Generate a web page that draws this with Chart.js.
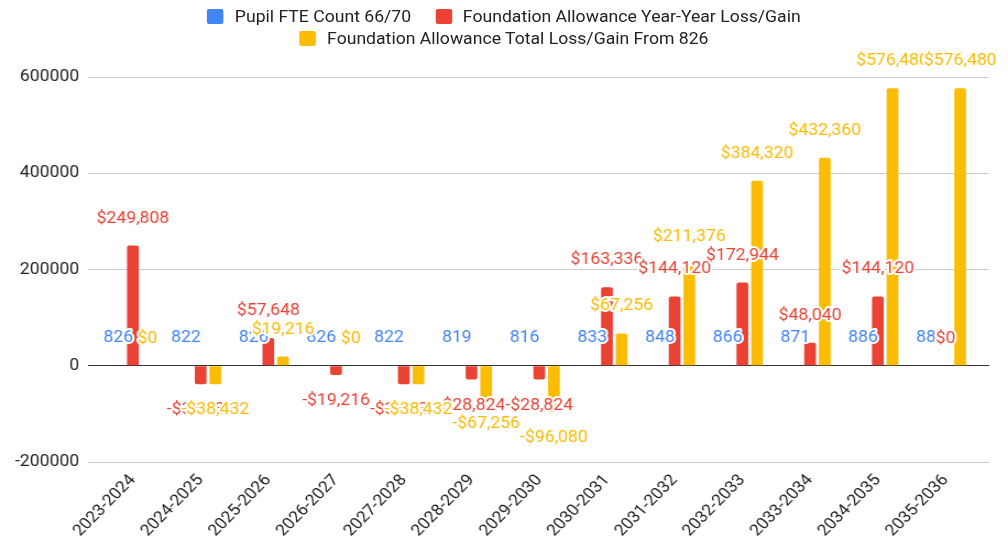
<!DOCTYPE html>
<html><head><meta charset="utf-8">
<script src="https://cdn.jsdelivr.net/npm/chart.js@4/dist/chart.umd.min.js"></script>
<style>
html,body{margin:0;padding:0;background:#fff;overflow:hidden;width:1008px;height:543px}
#wrap{position:absolute;left:0;top:0;width:916px;height:543px;transform-origin:0 0;transform:scaleX(1.10044)}
canvas{position:absolute;left:0;top:0}
#legend{position:absolute;left:0;top:5px;width:916px;font:16px Roboto, sans-serif;color:#222}
.row{display:flex;justify-content:center;align-items:center;height:22px;white-space:nowrap}
.item{display:flex;align-items:center;margin:0 11px}
.box{width:15px;height:15px;border-radius:2px;margin-right:10px;flex:none}
</style></head><body>
<div id="wrap">
<canvas id="c" width="916" height="543" style="width:916px;height:543px"></canvas>
<div id="legend"></div>
</div>
<script>
const categories = ['2023-2024','2024-2025','2025-2026','2026-2027','2027-2028','2028-2029','2029-2030','2030-2031','2031-2032','2032-2033','2033-2034','2034-2035','2035-2036'];
const pupilFTE = [826, 822, 826, 826, 822, 819, 816, 833, 848, 866, 871, 886, 886];
const yearLoss = [249808, -38432, 57648, -19216, -38432, -28824, -28824, 163336, 144120, 172944, 48040, 144120, 0];
const totalLoss = [0, -38432, 19216, 0, -38432, -67256, -96080, 67256, 211376, 384320, 432360, 576480, 576480];
const yTicks = [-200000, 0, 200000, 400000, 600000];
const seriesNames = ['Pupil FTE Count 66/70', 'Foundation Allowance Year-Year Loss/Gain', 'Foundation Allowance Total Loss/Gain From 826'];
const seriesColors = ['#4285F4', '#EA4335', '#FBBC04'];

const plainFmt = v => String(v);
const moneyFmt = v => (v < 0 ? '-$' : '$') + Math.abs(v).toLocaleString('en-US');

// HTML legend (two centered rows like the reference)
const legend = document.getElementById('legend');
[[0, 1], [2]].forEach(r => {
  const row = document.createElement('div');
  row.className = 'row';
  r.forEach(i => {
    const it = document.createElement('div');
    it.className = 'item';
    const b = document.createElement('span');
    b.className = 'box';
    b.style.background = seriesColors[i];
    const t = document.createElement('span');
    t.textContent = seriesNames[i];
    it.appendChild(b); it.appendChild(t);
    row.appendChild(it);
  });
  legend.appendChild(row);
});

const labelPlugin = {
  id: 'barLabels',
  afterDatasetsDraw(chart) {
    const ctx = chart.ctx;
    ctx.save();
    ctx.font = '16px Roboto';
    ctx.textAlign = 'center';
    ctx.textBaseline = 'middle';
    ctx.lineJoin = 'round';
    chart.data.datasets.forEach((ds, di) => {
      const meta = chart.getDatasetMeta(di);
      const fmt = di === 0 ? plainFmt : moneyFmt;
      meta.data.forEach((bar, i) => {
        const v = ds.data[i];
        const txt = fmt(v);
        const y = v >= 0 ? bar.y - 27 : bar.y + 26;
        ctx.strokeStyle = '#ffffff';
        ctx.lineWidth = 4;
        ctx.strokeText(txt, bar.x, y);
        ctx.fillStyle = seriesColors[di];
        ctx.fillText(txt, bar.x, y);
      });
    });
    ctx.restore();
  }
};

const gridColor = c => (c.tick && c.tick.value === 0) ? '#333333' : '#cccccc';
const setTicks = s => { s.ticks = yTicks.map(v => ({ value: v })); };

function draw() {
  new Chart(document.getElementById('c'), {
    type: 'bar',
    data: {
      labels: categories,
      datasets: [pupilFTE, yearLoss, totalLoss].map((d, i) => ({
        label: seriesNames[i],
        data: d,
        backgroundColor: seriesColors[i],
        borderRadius: 2,
        barPercentage: 0.8,
        categoryPercentage: 0.65
      }))
    },
    options: {
      responsive: false,
      animation: false,
      layout: { padding: { top: 77, left: 0, right: 17, bottom: 0 } },
      plugins: { legend: { display: false }, tooltip: { enabled: false } },
      scales: {
        x: {
          offset: true,
          grid: { display: false, drawTicks: false },
          border: { display: false },
          ticks: { font: { family: 'Roboto', size: 16 }, color: '#222', minRotation: 48, maxRotation: 48, autoSkip: false, padding: 9 },
          afterFit(s) { s.height = 81; }
        },
        y: {
          position: 'left',
          min: yTicks[0], max: yTicks[yTicks.length - 1],
          afterBuildTicks: setTicks,
          afterFit(s) { s.width = 90; },
          grid: { color: gridColor, lineWidth: 1, tickLength: 10, drawTicks: true },
          border: { display: false },
          ticks: { padding: 8, font: { family: 'Roboto', size: 16 }, color: '#222', callback: v => String(v) }
        },
        y2: {
          position: 'right',
          min: yTicks[0], max: yTicks[yTicks.length - 1],
          afterBuildTicks: setTicks,
          afterFit(s) { s.width = 9; },
          grid: { color: gridColor, lineWidth: 1, tickLength: 9, drawTicks: true, drawOnChartArea: false },
          border: { display: false },
          ticks: { display: false }
        }
      }
    },
    plugins: [labelPlugin]
  });
}
(document.fonts && document.fonts.load ? document.fonts.load('16px Roboto') : Promise.resolve()).then(draw, draw);
</script>
</body></html>
